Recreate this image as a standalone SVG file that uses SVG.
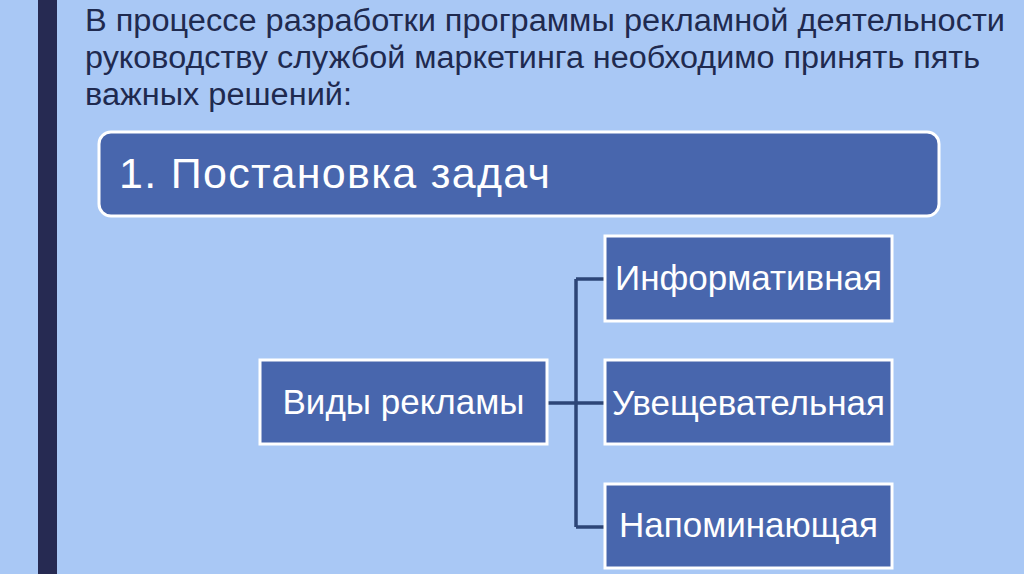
<svg xmlns="http://www.w3.org/2000/svg" width="1024" height="574" viewBox="0 0 1024 574">
<style>
.t{font-family:"Liberation Sans",Arial,sans-serif;fill:#1f2a4f;font-size:31px}
.box{fill:#4866ad;stroke:#ffffff;stroke-width:3}
.bt{font-family:"Liberation Sans",Arial,sans-serif;fill:#ffffff;font-size:35px;text-anchor:middle}
.c{fill:none;stroke:#2c4577;stroke-width:3.5}
</style>
<rect x="0" y="0" width="1024" height="574" fill="#a9c8f5"/>
<rect x="38" y="0" width="19" height="574" fill="#262a52"/>
<g id="title">
<text class="t" x="85" y="31" textLength="920" lengthAdjust="spacingAndGlyphs">В процессе разработки программы рекламной деятельности</text>
<text class="t" x="85" y="68" textLength="895" lengthAdjust="spacingAndGlyphs">руководству службой маркетинга необходимо принять пять</text>
<text class="t" x="85" y="105" textLength="267" lengthAdjust="spacingAndGlyphs">важных решений:</text>
</g>
<g id="node-task">
<rect class="box" x="99" y="132" width="840" height="84" rx="12"/>
<text x="119" y="188" font-family="Liberation Sans, Arial, sans-serif" font-size="43" fill="#ffffff" textLength="431">1. Постановка задач</text>
</g>
<g id="connectors">
<path class="c" d="M547 403 H605 M576 279 V527 M576 279 H605 M576 527 H605"/>
</g>
<g id="node-types">
<rect class="box" x="260" y="360" width="287" height="84"/>
<text class="bt" x="403.5" y="414">Виды рекламы</text>
</g>
<g id="node-info">
<rect class="box" x="605" y="236" width="287" height="85"/>
<text class="bt" x="748.5" y="290">Информативная</text>
</g>
<g id="node-persuasive">
<rect class="box" x="605" y="360" width="287" height="84"/>
<text class="bt" x="748.5" y="415">Увещевательная</text>
</g>
<g id="node-reminder">
<rect class="box" x="605" y="484" width="287" height="84"/>
<text class="bt" x="748.5" y="537">Напоминающая</text>
</g>
</svg>
